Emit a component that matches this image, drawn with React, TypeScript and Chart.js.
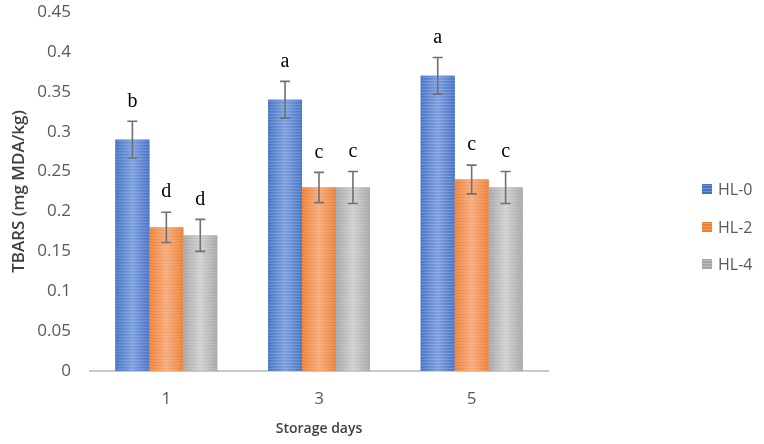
import React, { useEffect, useRef } from "react";
import { Chart, registerables } from "chart.js";

Chart.register(...registerables);

const categories = ["1", "3", "5"];
const seriesNames = ["HL-0", "HL-2", "HL-4"];
const hl0 = [0.29, 0.34, 0.37];
const hl2 = [0.18, 0.23, 0.24];
const hl4 = [0.17, 0.23, 0.23];
const hl0Err = [0.023, 0.023, 0.023];
const hl2Err = [0.019, 0.019, 0.018];
const hl4Err = [0.02, 0.02, 0.02];
const hl0Letters = ["b", "a", "a"];
const hl2Letters = ["d", "c", "c"];
const hl4Letters = ["d", "c", "c"];
const yTicks = [0, 0.05, 0.1, 0.15, 0.2, 0.25, 0.3, 0.35, 0.4, 0.45];

const baseColors = ["#4472C4", "#ED7D31", "#A5A5A5"];
const lightColors = ["#7C9EDD", "#F6A978", "#CFCFCF"];

const errors = [hl0Err, hl2Err, hl4Err];
const letters = [hl0Letters, hl2Letters, hl4Letters];

const barStylePlugin = {
  id: "barStyle",
  afterDatasetsDraw(chart: any) {
    const ctx = chart.ctx;
    const yScale = chart.scales.y;
    chart.data.datasets.forEach((ds: any, di: number) => {
      const meta = chart.getDatasetMeta(di);
      meta.data.forEach((el: any, i: number) => {
        const { x, y, base, width } = el.getProps(["x", "y", "base", "width"], true);
        const left = x - width / 2;
        const top = Math.min(y, base);
        const h = Math.abs(base - y);
        ctx.save();
        const g = ctx.createLinearGradient(left, 0, left + width, 0);
        g.addColorStop(0, baseColors[di]);
        g.addColorStop(0.5, lightColors[di]);
        g.addColorStop(1, baseColors[di]);
        ctx.fillStyle = g;
        ctx.fillRect(left, top, width, h);
        ctx.fillStyle = "rgba(255,255,255,0.22)";
        for (let yy = top + 1; yy < top + h; yy += 3) {
          ctx.fillRect(left, yy, width, 1);
        }
        const v = ds.data[i];
        const e = errors[di][i];
        const yHi = yScale.getPixelForValue(v + e);
        const yLo = yScale.getPixelForValue(v - e);
        ctx.strokeStyle = "#707070";
        ctx.lineWidth = 1.6;
        ctx.beginPath();
        ctx.moveTo(x, yHi);
        ctx.lineTo(x, yLo);
        ctx.moveTo(x - 5, yHi);
        ctx.lineTo(x + 5, yHi);
        ctx.moveTo(x - 5, yLo);
        ctx.lineTo(x + 5, yLo);
        ctx.stroke();
        ctx.fillStyle = "#000000";
        ctx.font = "20px 'Liberation Serif', 'DejaVu Serif', serif";
        ctx.textAlign = "center";
        ctx.textBaseline = "middle";
        ctx.fillText(letters[di][i], x, yHi - 20);
        ctx.restore();
      });
    });
  },
  afterDraw(chart: any) {
    const ctx = chart.ctx;
    const ys = [189, 227, 264];
    ctx.save();
    seriesNames.forEach((name, i) => {
      ctx.fillStyle = baseColors[i];
      ctx.fillRect(702, ys[i] - 5, 10, 10);
      ctx.fillStyle = "rgba(255,255,255,0.25)";
      for (let yy = ys[i] - 4; yy < ys[i] + 5; yy += 3) ctx.fillRect(702, yy, 10, 1);
      ctx.fillStyle = "#595959";
      ctx.font = "16px 'Open Sans', sans-serif";
      ctx.textAlign = "left";
      ctx.textBaseline = "middle";
      ctx.fillText(name, 718, ys[i] + 1);
    });
    ctx.restore();
  },
};

export default function App() {
  const ref = useRef<HTMLCanvasElement>(null);
  useEffect(() => {
    document.body.style.margin = "0";
    const chart = new Chart(ref.current!, {
      type: "bar",
      data: {
        labels: categories,
        datasets: [
          { label: seriesNames[0], data: hl0, backgroundColor: baseColors[0] },
          { label: seriesNames[1], data: hl2, backgroundColor: baseColors[1] },
          { label: seriesNames[2], data: hl4, backgroundColor: baseColors[2] },
        ],
      },
      options: {
        animation: false,
        responsive: false,
        maintainAspectRatio: false,
        devicePixelRatio: 1,
        layout: { padding: { left: 0, right: 216, top: 0, bottom: 0 } },
        datasets: { bar: { categoryPercentage: 0.667, barPercentage: 1.0 } },
        plugins: { legend: { display: false }, tooltip: { enabled: false } },
        scales: {
          x: {
            grid: { display: false, drawTicks: false },
            border: { display: true, color: "#C8C8C8", width: 2 },
            ticks: { color: "#595959", font: { family: "'Open Sans', sans-serif", size: 17 }, padding: 18 },
            title: {
              display: true,
              text: "Storage days",
              color: "#404040",
              font: { family: "'Open Sans', sans-serif", size: 14, weight: "600" },
              padding: { top: 4, bottom: 7 },
            },
            afterFit: (s: any) => { s.height = 73; },
          },
          y: {
            min: 0,
            max: 0.45,
            afterBuildTicks: (s: any) => { s.ticks = yTicks.map((v) => ({ value: v })); },
            grid: { display: false, drawTicks: false },
            border: { display: false },
            ticks: {
              color: "#595959",
              font: { family: "'Open Sans', sans-serif", size: 17 },
              padding: 19,
              callback: (v: any) => String(Math.round(Number(v) * 100) / 100),
            },
            title: {
              display: true,
              text: "TBARS (mg MDA/kg)",
              color: "#404040",
              font: { family: "'Open Sans', sans-serif", size: 17, weight: "600" },
              padding: { top: 9, bottom: 4 },
            },
            afterFit: (s: any) => {
              s.width = 90;
              s.paddingTop = 12;
              s.paddingBottom = 0;
            },
          },
        },
      },
      plugins: [barStylePlugin],
    });
    return () => chart.destroy();
  }, []);
  return <canvas ref={ref} width={764} height={444} style={{ display: "block" }} />;
}
